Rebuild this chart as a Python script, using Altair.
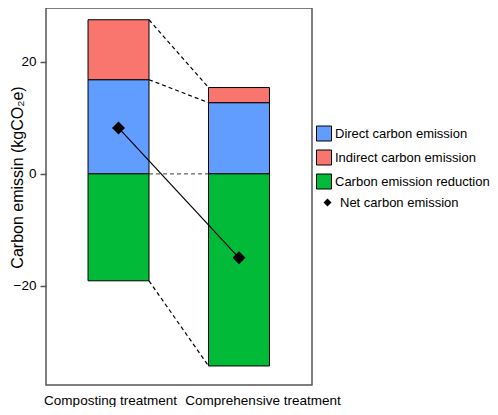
import altair as alt
import pandas as pd

# ---- data ----
treatments = ["Composting treatment", "Comprehensive treatment"]
direct = [16.8, 12.7]
indirect = [10.7, 2.7]
reduction = [-19.1, -34.3]
net = [8.2, -15.0]

components = ["Direct carbon emission", "Indirect carbon emission", "Carbon emission reduction"]
comp_colors = ["#619CFF", "#F8766D", "#00BA38"]
net_label = "Net carbon emission"
y_ticks = [-20, 0, 20]

# ---- layout constants ----
HW = 0.253  # half bar width in x units
pos = [1, 2]
FONT = "Liberation Sans"

rows = []
for i, t in enumerate(treatments):
    rows.append(dict(treatment=t, pos=pos[i], component=components[0], lo=0.0, hi=direct[i]))
    rows.append(dict(treatment=t, pos=pos[i], component=components[1], lo=direct[i], hi=direct[i] + indirect[i]))
    rows.append(dict(treatment=t, pos=pos[i], component=components[2], lo=reduction[i], hi=0.0))
bars_df = pd.DataFrame(rows)


def levels(i):
    return [direct[i] + indirect[i], direct[i], 0.0, reduction[i]]


conn_df = pd.DataFrame({
    "xa": [pos[0] + HW] * 4,
    "xb": [pos[1] - HW] * 4,
    "ya": levels(0),
    "yb": levels(1),
    "zero": [False, False, True, False],
})
net_df = pd.DataFrame({"pos": pos, "net": net, "series": [net_label] * 2})

xscale = alt.Scale(domain=[0.398, 2.606], nice=False, zero=False)
yscale = alt.Scale(domain=[-37.7, 29.6], nice=False, zero=False)

label_expr = "datum.value == 1 ? '%s' : '%s'" % (treatments[0], treatments[1])

x_axis = alt.Axis(
    values=pos, labelExpr=label_expr, ticks=False, domain=False, grid=False, title=None,
    labelFontSize=13.5, labelColor="black", labelFont=FONT, labelPadding=8,
    labelFlush=False, labelOverlap=False,
    labelOffset={"condition": {"test": "datum.value == 1", "value": -8.5}, "value": 23.5},
)
y_axis = alt.Axis(
    values=y_ticks, tickSize=6, tickColor="#555", tickWidth=1.5, labelPadding=4,
    labelFontSize=13.5, labelColor="black", labelFont=FONT, domain=False, grid=False,
    title="Carbon emissin (kgCO₂e)", titleFontSize=16, titleFontWeight="normal",
    titleColor="black", titleFont=FONT, titleX=-24, titleY=169,
    titleBaseline="alphabetic", titleAlign="center",
)


def X(field):
    return alt.X(field, scale=xscale, axis=x_axis)


def Y(field):
    return alt.Y(field, scale=yscale, axis=y_axis)


bars = alt.Chart(bars_df).transform_calculate(
    x0="datum.pos - %f" % HW, x1="datum.pos + %f" % HW
).mark_bar(stroke="black", strokeWidth=1, opacity=1).encode(
    x=X("x0:Q"),
    x2="x1:Q",
    y=Y("lo:Q"),
    y2="hi:Q",
    color=alt.Color(
        "component:N",
        scale=alt.Scale(domain=components, range=comp_colors),
        legend=alt.Legend(
            orient="none", legendX=270, legendY=117.5, title=None, symbolType="square",
            symbolSize=225, symbolStrokeColor="black", symbolStrokeWidth=1,
            labelFontSize=13, labelColor="black", labelFont=FONT, labelOffset=3,
            rowPadding=4, padding=0, symbolOpacity=1, labelLimit=400,
        ),
    ),
)

conn = alt.Chart(conn_df).mark_rule(strokeDash=[4, 3], strokeWidth=1.2).encode(
    x=X("xa:Q"),
    x2="xb:Q",
    y=Y("ya:Q"),
    y2="yb:Q",
    color=alt.condition("datum.zero", alt.value("#666666"), alt.value("black")),
)

line = alt.Chart(net_df).mark_line(color="black", strokeWidth=1.2).encode(
    x=X("pos:Q"),
    y=Y("net:Q"),
)

points = alt.Chart(net_df).mark_point(filled=True, color="black", size=169, opacity=1).encode(
    x=X("pos:Q"),
    y=Y("net:Q"),
    shape=alt.Shape(
        "series:N",
        scale=alt.Scale(domain=[net_label], range=["diamond"]),
        legend=alt.Legend(
            orient="none", legendX=275, legendY=188, title=None, symbolSize=64,
            symbolFillColor="black", symbolStrokeColor="black", labelFontSize=13,
            labelColor="black", labelFont=FONT, labelOffset=6, padding=0, labelLimit=400,
        ),
    ),
)

chart = alt.layer(conn, bars, line, points).properties(
    width=266, height=377,
    autosize=alt.AutoSizeParams(type="none"),
    padding={"left": 38, "top": 0, "right": 178, "bottom": 22},
).configure(font=FONT).configure_view(
    stroke="#555555", strokeWidth=1.5
)

chart.save("out.html", embed_options={"renderer": "svg", "actions": False})
